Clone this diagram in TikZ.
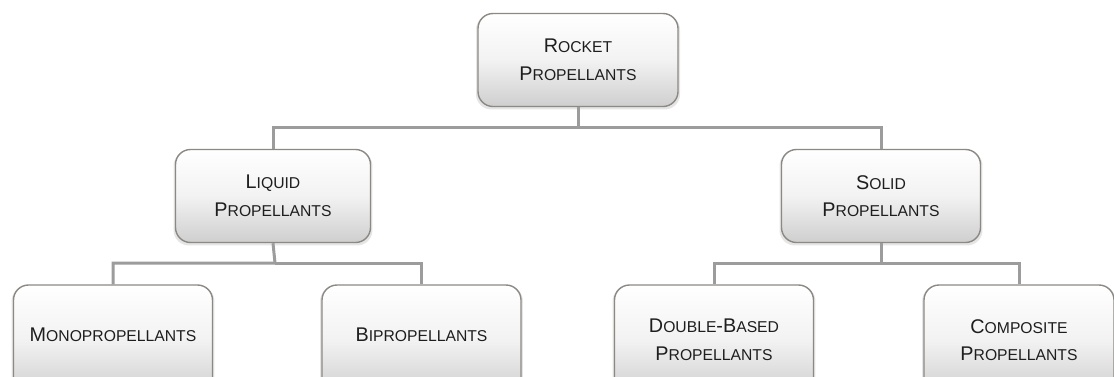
\documentclass[tikz,border=0pt]{standalone}
\usepackage{fontspec}
\setmainfont{Liberation Sans}
\usetikzlibrary{shadows}
\definecolor{boxline}{HTML}{8C8884}
\definecolor{connline}{HTML}{9C9C9C}
\definecolor{txt}{HTML}{1E1E1E}
\newcommand\msc[2]{{\fontsize{19.8}{27.5}\selectfont #1}{\fontsize{15.7}{27.5}\selectfont #2}}
\tikzset{
  pbox/.style={draw=boxline, line width=1.4pt, rounded corners=15pt,
    top color=white, bottom color=black!19, middle color=white!95!black,
    minimum height=93pt, align=center, text=txt, inner sep=2pt,
    font={\fontsize{19.8}{27.5}\selectfont},
    general shadow={fill=black, opacity=0.10, shadow xshift=0pt, shadow yshift=-2pt, shadow scale=1.02}},
  lowbox/.style={pbox, minimum width=199pt, minimum height=110pt},
  conn/.style={draw=connline, line width=3pt}
}
\begin{document}
\begin{tikzpicture}[x=1pt,y=-1pt]
\useasboundingbox (0,0) rectangle (1114,376);
\clip (0,0) rectangle (1114,376);
\fill[white] (0,0) rectangle (1114,376);
\coordinate (busA) at (578,127);
\coordinate (busB) at (275,263);
\coordinate (busC) at (881,263);
\node[pbox, minimum width=200pt] (root) at (578,60) {\msc{R}{OCKET}\\\msc{P}{ROPELLANTS}};
\node[pbox, minimum width=195pt] (liquid) at (273,196) {\msc{L}{IQUID}\\\msc{P}{ROPELLANTS}};
\node[pbox, minimum width=199pt] (solid) at (881,196) {\msc{S}{OLID}\\\msc{P}{ROPELLANTS}};
\node[lowbox] (mono) at (113,340) {\raisebox{10pt}{\msc{M}{ONOPROPELLANTS}}};
\node[lowbox] (bi) at (421.5,340) {\raisebox{10pt}{\msc{B}{IPROPELLANTS}}};
\node[lowbox] (double) at (714,340) {\msc{D}{OUBLE}-\msc{B}{ASED}\\\msc{P}{ROPELLANTS}};
\node[lowbox, minimum width=190pt] (comp) at (1019,340) {\msc{C}{OMPOSITE}\\\msc{P}{ROPELLANTS}};
\draw[conn] (root.south) -- (busA) -| (liquid.north);
\draw[conn] (busA) -| (solid.north);
\draw[conn] (liquid.south) -- (busB) -| (mono.north);
\draw[conn] (busB) -| (bi.north);
\draw[conn] (solid.south) -- (busC) -| (double.north);
\draw[conn] (busC) -| (comp.north);
\end{tikzpicture}
\end{document}
